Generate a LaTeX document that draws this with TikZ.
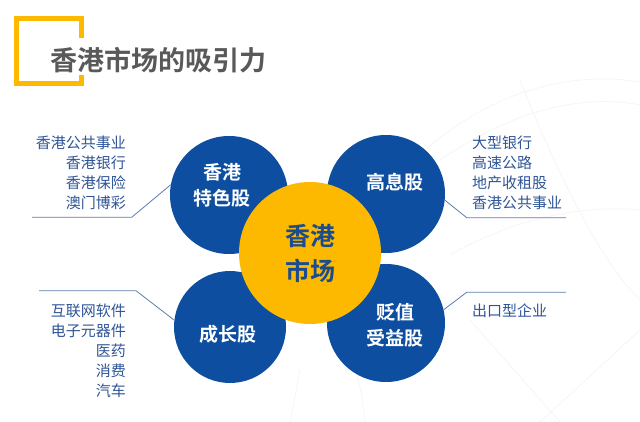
\documentclass[tikz,border=0pt]{standalone}
\usepackage{fontspec}
\usetikzlibrary{positioning,calc}
\newfontfamily\cjk{Noto Sans CJK SC}[BoldFont={* Bold}]
\definecolor{hkblue}{HTML}{0D4EA0}
\definecolor{hkgold}{HTML}{FDB900}
\definecolor{coreblue}{HTML}{1B4C8E}
\definecolor{listblue}{HTML}{2F5597}
\definecolor{rulegray}{HTML}{5E7DAE}
\definecolor{titlegray}{HTML}{595959}

\begin{document}
\begin{tikzpicture}[x=1pt,y=-1pt,bub/.style={circle,fill=hkblue,minimum size=118pt,inner sep=0pt},bubtxt/.style={text=white,font=\cjk\bfseries\fontsize{19}{26}\selectfont,align=center,inner sep=0pt},core/.style={circle,fill=hkgold,minimum size=142pt,inner sep=0pt,text=coreblue,font=\cjk\bfseries\fontsize{25}{35}\selectfont,align=center},lst/.style={text=listblue,font=\cjk\fontsize{15}{20}\selectfont,inner sep=0pt},lead/.style={draw=rulegray,line width=0.8pt},globe/.style={draw=black!4,line width=0.7pt}]
    \useasboundingbox[fill=white] (0,0) rectangle (640,422);
    \draw[globe] (425,150) .. controls (500,85) and (580,72) .. (640,82);
    \draw[globe] (440,160) .. controls (520,105) and (590,95) .. (640,105);
    \draw[globe] (450,255) .. controls (520,215) and (590,205) .. (640,210);
    \draw[globe] (520,80) .. controls (560,180) and (600,260) .. (640,300);
    \draw[globe] (470,320) -- (560,422);
    \draw[globe] (640,330) -- (540,422);
    \draw[globe] (340,330) .. controls (360,380) .. (365,422);
    \draw[globe] (300,370) -- (290,422);
    \draw[hkgold,line width=4.7pt] (81.3,38) -- (81.3,18.3) -- (16.3,18.3) -- (16.3,83.7) -- (81.3,83.7) -- (81.3,75);
    \node[anchor=west,inner sep=0pt,text=titlegray,font=\cjk\bfseries\fontsize{27}{27}\selectfont] (title) at (50,60) {香港市场的吸引力};
    \node[bub] (tese) at (229,195) {};
    \node[bub] (gaoxi) at (386,194) {};
    \node[bub,minimum size=112pt] (chengzhang) at (230,327) {};
    \node[bub] (bianzhi) at (386,323) {};
    \node[core] (hk) at (310,253) {香港\\市场};
    \node[bubtxt] (tesetxt) at (222,185) {香港\\特色股};
    \node[bubtxt] (gaoxitxt) at (395,182) {高息股};
    \node[bubtxt] (chengzhangtxt) at (228,334) {成长股};
    \node[bubtxt] (bianzhitxt) at (395,325) {贬值\\受益股};
    \node[lst,anchor=east,align=right] (l1) at (126,173) {香港公共事业\\香港银行\\香港保险\\澳门博彩};
    \node[lst,anchor=west,align=left] (r1) at (472,173) {大型银行\\高速公路\\地产收租股\\香港公共事业};
    \node[lst,anchor=east,align=right] (l2) at (126,350.5) {互联网软件\\电子元器件\\医药\\消费\\汽车};
    \node[lst,anchor=west,align=left] (r2) at (472,310.7) {出口型企业};
    \coordinate (e1) at (32,217.3); \coordinate (k1) at (131.7,217.3);
    \coordinate (e2) at (566,217.7); \coordinate (k2) at (466.7,217.7);
    \coordinate (e3) at (39,290.7); \coordinate (k3) at (136,290.7);
    \coordinate (e4) at (566,292.3); \coordinate (k4) at (466.7,292.3);
    \draw[lead] (e1)--(k1)--(tese.170); \draw[lead] (e2)--(k2)--(gaoxi.-6);
    \draw[lead] (e3)--(k3)--(chengzhang.173); \draw[lead] (e4)--(k4)--(bianzhi.13);
  \end{tikzpicture}
\end{document}
